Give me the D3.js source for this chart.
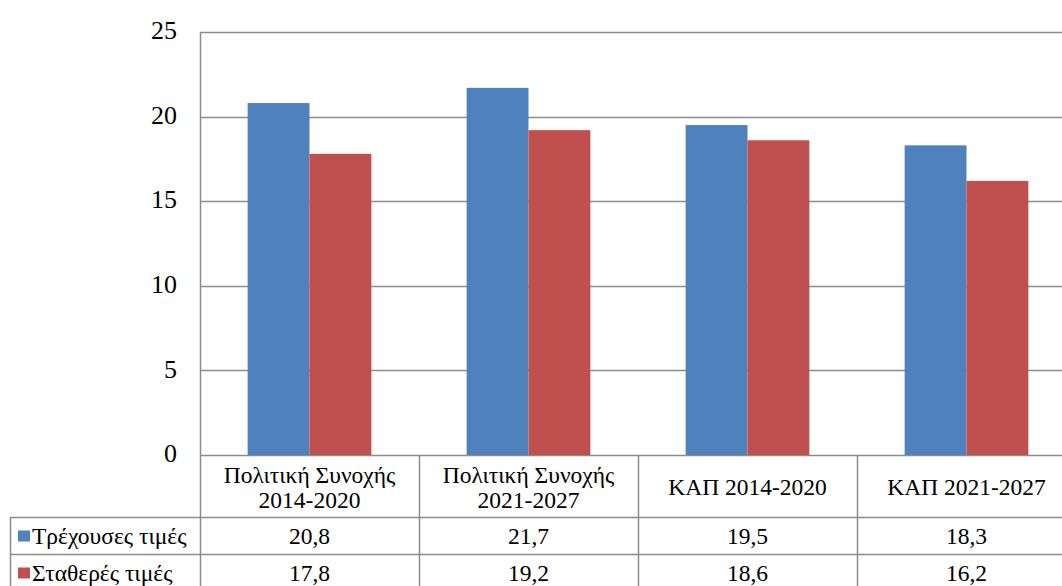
<!DOCTYPE html>
<html>
<head>
<meta charset="utf-8">
<script src="https://cdn.jsdelivr.net/npm/d3@7"></script>
<style>
  html, body { margin: 0; padding: 0; background: #fff; overflow: hidden; }
  svg { display: block; }
  svg text { font-family: "Liberation Serif", "DejaVu Serif", "Times New Roman", serif; }
</style>
</head>
<body>
<svg id="chart" width="1062" height="586"></svg>
<script>
// Budget shares (%) – current vs constant prices
const categories = [
  ["Πολιτική Συνοχής", "2014-2020"],
  ["Πολιτική Συνοχής", "2021-2027"],
  ["ΚΑΠ 2014-2020"],
  ["ΚΑΠ 2021-2027"]
];
const seriesNames = ["Τρέχουσες τιμές", "Σταθερές τιμές"];
const currentPrices = [20.8, 21.7, 19.5, 18.3];
const constantPrices = [17.8, 19.2, 18.6, 16.2];
const yTicks = [0, 5, 10, 15, 20, 25];
const colors = ["#4F81BD", "#C0504D"];

(function () {
  const series = [currentPrices, constantPrices];
  const fmt = v => String(v).replace(".", ",");

  const svg = d3.select("#chart");
  const plotLeft = 200, plotRight = 1076, plotTop = 32, plotBottom = 455;
  const tableLeft = 10;
  const headerBottom = 517, rowH = 37;
  const tableFont = 23.5;

  const x = d3.scaleBand().domain(d3.range(categories.length)).range([plotLeft, plotRight]).padding(0);
  const xInner = d3.scaleBand().domain(d3.range(series.length)).range([0, x.bandwidth()]).paddingInner(0).paddingOuter(0.77);
  const y = d3.scaleLinear().domain([0, 25]).range([plotBottom, plotTop]);

  const gridColor = "#8c8c8c";

  // Horizontal gridlines
  svg.append("g").selectAll("line").data(yTicks).join("line")
    .attr("x1", plotLeft).attr("x2", 1062)
    .attr("y1", d => Math.round(y(d)) + 0.5).attr("y2", d => Math.round(y(d)) + 0.5)
    .attr("stroke", gridColor).attr("stroke-width", 1.5);

  // Y tick labels
  svg.append("g").selectAll("text").data(yTicks).join("text")
    .attr("x", 177).attr("y", d => y(d) - 2)
    .attr("dy", "0.35em")
    .attr("text-anchor", "end")
    .attr("font-size", 26)
    .attr("fill", "#000")
    .text(d => d);

  // Bars
  series.forEach((vals, si) => {
    svg.append("g").selectAll("rect").data(vals).join("rect")
      .attr("x", (d, i) => x(i) + xInner(si))
      .attr("width", xInner.bandwidth())
      .attr("y", d => y(d))
      .attr("height", d => y(0) - y(d))
      .attr("fill", colors[si]);
  });

  // Data table grid
  const tbl = svg.append("g").attr("stroke", gridColor).attr("stroke-width", 1.5);
  tbl.append("line").attr("x1", plotLeft + 0.5).attr("x2", plotLeft + 0.5).attr("y1", plotTop).attr("y2", 586);
  d3.range(1, categories.length).forEach(i => {
    const xx = Math.round(x(i)) + 0.5;
    tbl.append("line").attr("x1", xx).attr("x2", xx).attr("y1", plotBottom).attr("y2", 586);
  });
  [headerBottom, headerBottom + rowH].forEach(yy => {
    tbl.append("line").attr("x1", tableLeft).attr("x2", 1062).attr("y1", yy + 0.5).attr("y2", yy + 0.5);
  });
  tbl.append("line").attr("x1", tableLeft + 0.5).attr("x2", tableLeft + 0.5).attr("y1", headerBottom).attr("y2", 586);

  // Category header labels
  const header = svg.append("g").attr("font-size", tableFont).attr("text-anchor", "middle").attr("fill", "#000");
  categories.forEach((lines, i) => {
    const cx = x(i) + x.bandwidth() / 2;
    const mid = (plotBottom + headerBottom) / 2 + 1;
    const lh = 25;
    lines.forEach((t, li) => {
      header.append("text")
        .attr("x", cx)
        .attr("y", mid + (li - (lines.length - 1) / 2) * lh)
        .attr("dy", "0.35em")
        .text(t);
    });
  });

  // Series rows: legend key, name, values
  series.forEach((vals, si) => {
    const cy = headerBottom + rowH * si + rowH / 2;
    svg.append("rect")
      .attr("x", 18).attr("y", cy - 5).attr("width", 12).attr("height", 11)
      .attr("fill", colors[si]);
    svg.append("text")
      .attr("x", 32).attr("y", cy).attr("dy", "0.35em")
      .attr("font-size", tableFont).attr("fill", "#000")
      .text(seriesNames[si]);
    svg.append("g").selectAll("text").data(vals).join("text")
      .attr("x", (d, i) => x(i) + x.bandwidth() / 2)
      .attr("y", cy).attr("dy", "0.35em")
      .attr("text-anchor", "middle")
      .attr("font-size", tableFont).attr("fill", "#000")
      .text(d => fmt(d));
  });
})();
</script>
</body>
</html>
